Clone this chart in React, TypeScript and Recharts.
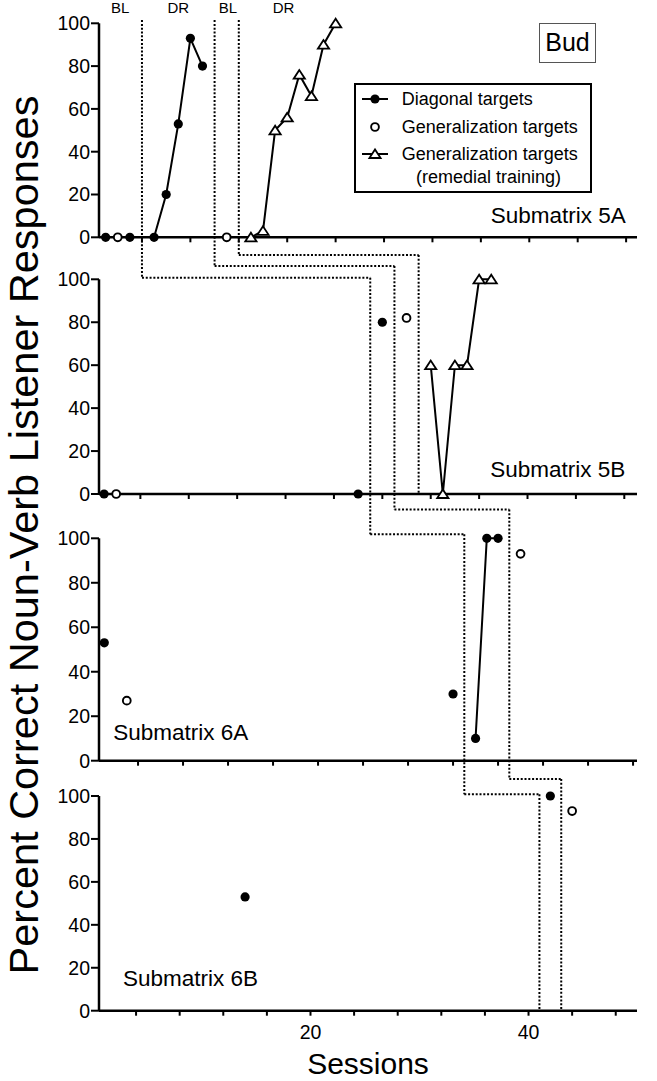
import React from 'react';
import { LineChart, Line, XAxis, YAxis, ReferenceLine, ReferenceDot, Legend } from 'recharts';

const W = 657;
const H = 1081;
const PLOT_L = 99;
const PLOT_R = 637;
const FONT = '"Liberation Sans", Arial, Helvetica, sans-serif';

// Submatrix 5A
const S5A_DIAG_BL = [1, 3];
const V5A_DIAG_BL = [0, 0];
const S5A_DIAG_DR = [5, 6, 7, 8, 9];
const V5A_DIAG_DR = [0, 20, 53, 93, 80];
const S5A_GEN = [2, 11];
const V5A_GEN = [0, 0];
const S5A_REM = [13, 14, 15, 16, 17, 18, 19, 20];
const V5A_REM = [0, 3, 50, 56, 76, 66, 90, 100];

// Submatrix 5B
const S5B_DIAG = [1, 22, 24];
const V5B_DIAG = [0, 0, 80];
const S5B_GEN = [2, 26];
const V5B_GEN = [0, 82];
const S5B_REM = [28, 29, 30, 31, 32, 33];
const V5B_REM = [60, 0, 60, 60, 100, 100];

// Submatrix 6A
const S6A_DIAG_BL = [1, 32];
const V6A_DIAG_BL = [53, 30];
const S6A_DIAG_DR = [34, 35, 36];
const V6A_DIAG_DR = [10, 100, 100];
const S6A_GEN = [3, 38];
const V6A_GEN = [27, 93];

// Submatrix 6B
const S6B_DIAG = [14, 42];
const V6B_DIAG = [53, 100];
const S6B_GEN = [44];
const V6B_GEN = [93];

const Y_TICKS = [0, 20, 40, 60, 80, 100];
const X_TICKS_5 = [4, 8, 12, 16, 20, 24, 28, 32, 36, 40, 44];
const X_TICKS_6 = [4, 8, 12, 16, 20, 24, 28, 32, 36, 40, 44, 48];
const X_LABELED = [20, 40];

const PHASE_NAMES = ['BL', 'DR', 'BL', 'DR'];
const PHASE_NAME_X = [2.2, 7, 11.1, 15.7];

// phase-change lines: session of the change in 5A, 5B, 6A, 6B
const PHASE_1 = [4, 23, 33, 41];
const PHASE_2 = [10, 25, 37, 43];
const PHASE_3 = [12, 27];
// where each line steps across, in percent units of the next panel down
const STEP_1 = [100.7, 101.8, 100.8];
const STEP_2 = [106.2, 113, 107.9];
const STEP_3 = [111.3];
const PHASE_TOP = 101.5;

type Kind = 'filled' | 'open' | 'tri';
type Series = { xs: number[]; ys: number[]; kind: Kind; join: boolean };
type Panel = {
  name: string;
  domain: [number, number];
  top: number;
  zero: number;
  ticks: number[];
  labelAt: [number, number];
  series: Series[];
};

const PANELS: Panel[] = [
  {
    name: 'Submatrix 5A', domain: [0.45, 44.9], top: 23.3, zero: 237.3, ticks: X_TICKS_5, labelAt: [38.4, 10.4],
    series: [
      { xs: S5A_DIAG_BL, ys: V5A_DIAG_BL, kind: 'filled', join: false },
      { xs: S5A_DIAG_DR, ys: V5A_DIAG_DR, kind: 'filled', join: true },
      { xs: S5A_GEN, ys: V5A_GEN, kind: 'open', join: false },
      { xs: S5A_REM, ys: V5A_REM, kind: 'tri', join: true },
    ],
  },
  {
    name: 'Submatrix 5B', domain: [0.58, 45.05], top: 279.3, zero: 494, ticks: X_TICKS_5, labelAt: [38.5, 11.6],
    series: [
      { xs: S5B_DIAG, ys: V5B_DIAG, kind: 'filled', join: false },
      { xs: S5B_GEN, ys: V5B_GEN, kind: 'open', join: false },
      { xs: S5B_REM, ys: V5B_REM, kind: 'tri', join: true },
    ],
  },
  {
    name: 'Submatrix 6A', domain: [0.53, 48.35], top: 538.3, zero: 760.7, ticks: X_TICKS_6, labelAt: [7.8, 12.8],
    series: [
      { xs: S6A_DIAG_BL, ys: V6A_DIAG_BL, kind: 'filled', join: false },
      { xs: S6A_DIAG_DR, ys: V6A_DIAG_DR, kind: 'filled', join: true },
      { xs: S6A_GEN, ys: V6A_GEN, kind: 'open', join: false },
    ],
  },
  {
    name: 'Submatrix 6B', domain: [0.6, 49.95], top: 796, zero: 1010.7, ticks: X_TICKS_6, labelAt: [9.0, 15.4],
    series: [
      { xs: S6B_DIAG, ys: V6B_DIAG, kind: 'filled', join: false },
      { xs: S6B_GEN, ys: V6B_GEN, kind: 'open', join: false },
    ],
  },
];

// convert between panels (each panel has its own session scale)
const xToPx = (p: Panel, s: number) => PLOT_L + ((s - p.domain[0]) / (p.domain[1] - p.domain[0])) * (PLOT_R - PLOT_L);
const pxToX = (p: Panel, px: number) => p.domain[0] + ((px - PLOT_L) / (PLOT_R - PLOT_L)) * (p.domain[1] - p.domain[0]);
const yToPx = (p: Panel, v: number) => p.zero - (v / 100) * (p.zero - p.top);
const pxToY = (p: Panel, px: number) => ((p.zero - px) / (p.zero - p.top)) * 100;

function phaseSegments() {
  const lines = [
    { at: PHASE_1, steps: STEP_1 },
    { at: PHASE_2, steps: STEP_2 },
    { at: PHASE_3, steps: STEP_3 },
  ];
  const top = PANELS[0];
  const segs: { x: number; y: number }[][] = [];
  lines.forEach(({ at, steps }) => {
    const pts: [number, number][] = [[xToPx(PANELS[0], at[0]), yToPx(PANELS[0], PHASE_TOP)]];
    for (let i = 0; i < at.length; i++) {
      const x = xToPx(PANELS[i], at[i]);
      const last = i === at.length - 1;
      const yEnd = last ? yToPx(PANELS[i], 0) : yToPx(PANELS[i + 1], steps[i]);
      pts.push([x, yEnd]);
      if (!last) pts.push([xToPx(PANELS[i + 1], at[i + 1]), yEnd]);
    }
    for (let k = 0; k < pts.length - 1; k++) {
      segs.push([
        { x: pxToX(top, pts[k][0]), y: pxToY(top, pts[k][1]) },
        { x: pxToX(top, pts[k + 1][0]), y: pxToY(top, pts[k + 1][1]) },
      ]);
    }
  });
  return segs;
}

function Marker({ kind, cx, cy }: { kind: Kind; cx: number; cy: number }) {
  if (kind === 'filled') return <circle cx={cx} cy={cy} r={4.6} fill="#000" />;
  if (kind === 'open') return <circle cx={cx} cy={cy} r={3.9} fill="#fff" stroke="#000" strokeWidth={1.9} />;
  return (
    <polygon
      points={`${cx},${cy - 4.6} ${cx - 5.6},${cy + 4} ${cx + 5.6},${cy + 4}`}
      fill="#fff"
      stroke="#000"
      strokeWidth={1.8}
      strokeLinejoin="miter"
    />
  );
}

function LegendIcon({ kind, line }: { kind: Kind; line: boolean }) {
  return (
    <svg width={26} height={14} style={{ display: 'block' }}>
      {line && <line x1={0} y1={7} x2={26} y2={7} stroke="#000" strokeWidth={2} />}
      <Marker kind={kind} cx={13} cy={7} />
    </svg>
  );
}

function LegendBox() {
  const rows: { c: number; text: string; left: number; icon?: React.ReactNode }[] = [
    { c: 16.3, text: 'Diagonal targets', left: 45.7, icon: <LegendIcon kind="filled" line /> },
    { c: 43.7, text: 'Generalization targets', left: 45.7, icon: <LegendIcon kind="open" line={false} /> },
    { c: 71, text: 'Generalization targets', left: 45.7, icon: <LegendIcon kind="tri" line /> },
    { c: 93.7, text: '(remedial training)', left: 60 },
  ];
  return (
    <div
      style={{
        position: 'relative', width: 238, height: 110, boxSizing: 'border-box', border: '2px solid #000',
        background: '#fff', fontFamily: FONT, fontSize: 18, color: '#000',
      }}
    >
      {rows.map((r, i) => (
        <React.Fragment key={i}>
          {r.icon && <div style={{ position: 'absolute', left: 5.7, top: r.c - 2 - 7 }}>{r.icon}</div>}
          <div style={{ position: 'absolute', left: r.left, top: r.c - 2 - 10, lineHeight: '20px', whiteSpace: 'nowrap' }}>
            {r.text}
          </div>
        </React.Fragment>
      ))}
    </div>
  );
}

function PanelChart({ p, idx }: { p: Panel; idx: number }) {
  const isLast = idx === PANELS.length - 1;
  const xAxisH = isLast ? H - p.zero : 40;
  const tickStyle = { fill: '#000', fontSize: 19.5, fontFamily: FONT };
  return (
    <div style={{ position: 'absolute', left: 0, top: 0 }}>
      <LineChart
        width={W}
        height={H}
        margin={{ top: p.top, right: W - PLOT_R, left: 0, bottom: H - p.zero - xAxisH }}
      >
        <XAxis
          type="number"
          dataKey="x"
          domain={p.domain}
          ticks={p.ticks}
          interval={0}
          height={xAxisH}
          tickSize={5}
          tickMargin={9}
          axisLine={{ stroke: '#000', strokeWidth: 2.5 }}
          tickLine={{ stroke: '#000', strokeWidth: 2 }}
          tick={tickStyle}
          tickFormatter={(v: number) => (isLast && X_LABELED.includes(v) ? String(v) : '')}
          label={isLast ? { value: 'Sessions', position: 'insideBottom', offset: 7, fontSize: 30, fill: '#000', fontFamily: FONT } : undefined}
        />
        <YAxis
          type="number"
          domain={[0, 100]}
          ticks={Y_TICKS}
          interval={0}
          width={PLOT_L}
          tickSize={8}
          tickMargin={1}
          axisLine={{ stroke: '#000', strokeWidth: 2.5 }}
          tickLine={{ stroke: '#000', strokeWidth: 2 }}
          tick={tickStyle}
        />
        {idx === 0 &&
          phaseSegments().map((seg, i) => (
            <ReferenceLine
              key={`ph-${i}`}
              segment={seg}
              ifOverflow="visible"
              stroke="#000"
              strokeWidth={2}
              strokeDasharray="2 1.8"
            />
          ))}
        {idx === 0 &&
          PHASE_NAMES.map((n, i) => (
            <ReferenceDot
              key={`pn-${i}`}
              x={PHASE_NAME_X[i]}
              y={107.5}
              r={0}
              fill="none"
              stroke="none"
              ifOverflow="visible"
              label={{ value: n, position: 'center', fontSize: 15, fill: '#000', fontFamily: FONT }}
            />
          ))}
        {idx === 1 && (
          // shared y-axis title, centred on the whole figure
          <ReferenceDot
            x={pxToX(p, 23)}
            y={pxToY(p, 535)}
            r={0}
            fill="none"
            stroke="none"
            ifOverflow="visible"
            label={{
              value: 'Percent Correct Noun-Verb Listener Responses',
              position: 'center',
              angle: -90,
              fontSize: 41.5,
              fill: '#000',
              fontFamily: FONT,
            }}
          />
        )}
        <ReferenceDot
          x={p.labelAt[0]}
          y={p.labelAt[1]}
          r={0}
          fill="none"
          stroke="none"
          ifOverflow="visible"
          label={{ value: p.name, position: 'center', fontSize: 22.5, fill: '#000', fontFamily: FONT }}
        />
        {p.series.map((s, i) => (
          <Line
            key={`${p.name}-${i}`}
            data={s.xs.map((x, j) => ({ x, y: s.ys[j] }))}
            dataKey="y"
            type="linear"
            stroke={s.join ? '#000' : 'none'}
            strokeWidth={2}
            isAnimationActive={false}
            activeDot={false}
            dot={(d: any) => <Marker key={`${d.cx}-${d.cy}`} kind={s.kind} cx={d.cx} cy={d.cy} />}
          />
        ))}
        {idx === 0 && (
          <Legend
            layout="horizontal"
            verticalAlign="middle"
            align="center"
            wrapperStyle={{ left: 354, top: 83, width: 238, height: 110 }}
            content={() => <LegendBox />}
          />
        )}
      </LineChart>
    </div>
  );
}

export default function App() {
  return (
    <div style={{ position: 'absolute', left: 0, top: 0, width: W, height: H, background: '#fff', fontFamily: FONT }}>
      {PANELS.map((p, i) => (
        <PanelChart key={p.name} p={p} idx={i} />
      ))}
      <div
        style={{
          position: 'absolute', left: 539, top: 23, width: 57, height: 40, boxSizing: 'border-box',
          border: '1.5px solid #555', fontSize: 25, lineHeight: '37px', textAlign: 'center', color: '#000',
        }}
      >
        Bud
      </div>
    </div>
  );
}
